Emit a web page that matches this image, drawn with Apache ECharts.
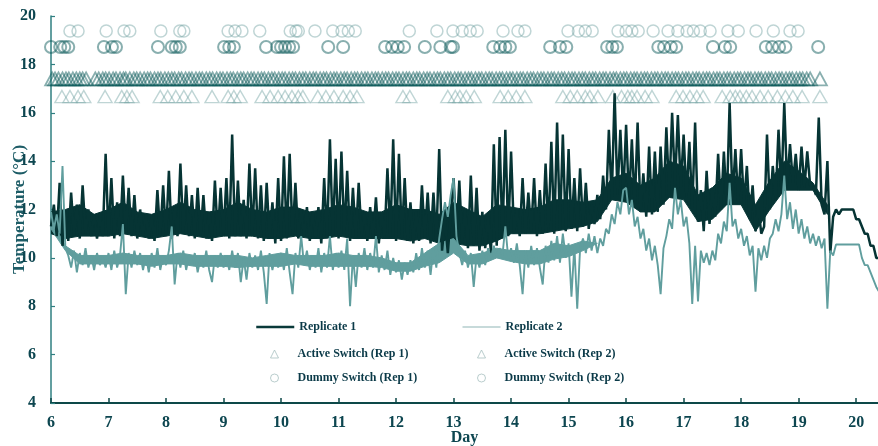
<!DOCTYPE html>
<html><head><meta charset="utf-8">
<script src="https://cdn.jsdelivr.net/npm/echarts@6/dist/echarts.min.js"></script>
<style>html,body{margin:0;padding:0;background:#fff}#c{width:878px;height:446px}</style>
</head><body><div id="c"></div><script>
// ---- data ----
const sampleStartDay = 6.0;   // first logged sample (day)
const sampleStepDay = 0.05;   // logging interval (day)

const rep1Temps = [
 11.3,12.2,10.9,13.1,10.5,11.9,10.7,12.7,10.9,12.2,10.8,13.0,11.0,12.0,10.9,11.8,10.8,11.7,10.9,14.3,
 10.9,13.3,10.8,12.3,10.9,13.4,11.0,12.9,10.9,12.6,10.8,12.0,10.9,11.8,10.8,11.7,10.7,12.8,10.9,13.0,
 10.9,13.6,10.8,12.1,10.9,13.9,11.0,13.0,10.9,12.6,10.8,12.9,10.9,12.6,10.8,11.9,10.7,13.2,10.9,12.9,
 10.9,13.3,10.8,15.1,10.9,13.2,10.9,12.4,10.8,13.9,10.9,13.7,10.8,13.0,10.7,13.1,10.8,12.3,10.6,13.3,
 10.7,14.2,10.8,14.3,10.9,13.1,10.8,12.0,10.9,12.1,10.7,11.9,10.8,12.1,10.6,13.3,10.8,14.9,10.9,14.1,
 10.8,14.4,10.9,13.6,10.7,12.9,10.8,13.1,10.9,11.9,10.7,12.1,10.8,12.5,10.6,11.9,10.8,13.7,10.9,14.9,
 10.7,14.3,10.8,13.3,10.7,12.3,10.6,11.9,10.7,13.0,10.8,12.7,10.6,12.7,10.7,14.5,10.3,11.6,10.2,11.8,
 13.3,10.9,13.2,10.6,12.0,10.4,13.4,10.5,12.9,10.3,11.9,10.4,11.7,10.2,14.7,10.5,15.0,10.8,15.3,10.9,
 14.4,11.0,12.0,10.9,13.3,11.0,12.7,11.1,13.3,10.9,12.8,11.0,13.9,11.1,14.8,11.0,15.6,11.2,15.1,11.1,
 14.5,11.2,13.3,11.1,13.7,11.3,13.1,11.2,12.2,11.4,12.6,11.6,13.4,12.0,15.3,12.4,16.8,12.6,15.3,12.5,
 15.5,12.3,14.9,12.1,15.6,11.9,13.5,11.7,14.6,11.8,14.4,11.9,14.6,12.2,15.4,12.6,16.0,13.0,15.9,12.9,
 15.1,12.5,14.8,12.0,15.6,11.5,12.8,11.1,13.6,11.4,12.9,11.7,14.3,12.0,14.4,12.2,16.4,12.4,14.5,12.3,
 14.5,12.2,13.8,11.6,13.0,11.1,12.1,11.0,11.3,15.1,12.0,13.8,12.4,15.3,12.8,16.4,13.0,14.7,13.1,14.3,
 12.8,14.6,12.9,14.4,13.0,13.0,12.6,15.8,12.2,11.8,14.0,10.2,11.7,12.0,11.8,12.0,12.0,12.0,12.0,12.0,
 11.6,11.6,11.3,11.0,11.0,10.5,10.5,10.0,10.0
];

const rep2Temps = [
 11.9,11.2,11.8,11.0,13.8,10.4,10.1,9.6,10.3,9.4,10.2,9.7,10.4,9.6,10.1,9.5,10.2,9.7,10.0,9.6,
 10.2,9.5,10.3,9.6,10.1,11.4,8.5,10.2,9.6,10.3,9.7,10.2,9.5,10.1,9.4,10.2,9.6,10.4,9.5,10.1,
 9.7,10.3,11.3,8.9,10.2,9.6,10.3,9.5,10.1,9.7,10.2,9.4,10.0,9.6,10.3,9.5,9.0,10.1,9.6,10.2,
 9.6,10.1,9.5,10.3,9.6,10.2,9.0,10.0,9.1,10.2,9.6,10.1,9.5,10.3,9.4,8.1,10.2,9.5,10.1,9.6,
 10.2,9.5,10.4,9.4,8.5,10.2,9.6,10.9,9.7,10.3,9.5,10.1,9.6,10.4,9.4,10.2,9.6,10.9,9.5,10.2,
 9.6,10.3,9.5,10.8,8.0,10.1,8.8,10.2,9.6,10.4,9.5,10.2,9.6,10.9,9.4,10.1,9.5,10.3,9.3,10.0,
 9.4,9.9,9.1,9.8,9.3,9.9,9.4,10.2,9.5,10.4,9.6,10.3,9.3,10.4,9.6,10.8,11.6,12.3,11.7,12.6,
 13.3,10.9,10.2,9.7,10.3,9.6,10.2,8.8,10.1,9.6,10.3,9.7,10.4,10.0,10.5,10.0,10.4,10.1,11.3,10.0,
 10.4,9.8,10.6,9.7,8.5,10.3,9.6,10.5,9.7,10.4,9.6,8.9,10.5,9.8,10.7,9.9,10.9,9.8,11.0,10.0,
 10.6,8.4,10.5,7.9,10.4,10.8,10.2,11.0,10.3,10.9,10.2,10.8,10.5,11.2,11.0,11.8,11.4,12.3,11.8,12.8,
 12.9,11.8,12.4,11.3,11.7,10.8,11.2,10.3,10.8,9.9,10.5,9.7,8.5,10.4,10.9,11.6,11.2,12.9,11.8,12.4,
 11.3,11.7,10.6,8.1,10.5,8.2,10.3,9.8,10.2,9.7,10.3,9.9,11.0,10.6,11.5,11.1,13.1,11.3,11.6,10.8,
 11.2,10.5,10.9,10.1,10.5,8.6,10.4,9.9,10.5,10.0,10.8,11.0,11.6,11.1,11.8,13.4,11.6,12.3,11.2,12.0,
 11.0,11.6,10.8,11.3,10.6,11.0,10.5,10.9,10.4,10.8,7.9,10.3,10.1,10.55,10.55,10.55,10.55,10.55,10.55,10.55,
 10.55,10.55,10.0,9.7,9.7,9.4,9.1,8.8,8.6
];

// solid core of each dense trace, every 0.25 day from day 6
const bandStartDay = 6.0;
const bandStepDay = 0.25;
const rep1BandLow = [11.0,10.8,10.9,10.9,10.9,11.0,10.9,10.8,10.9,11.0,10.9,10.8,10.9,10.9,10.9,10.8,10.8,10.9,10.8,10.8,10.9,10.8,10.8,10.8,10.8,10.7,10.8,10.6,10.6,10.5,10.5,10.7,11.0,11.0,11.0,11.1,11.2,11.3,11.5,12.4,12.3,11.9,11.9,12.5,12.4,11.5,11.6,12.2,12.2,11.1,12.0,12.8,12.8,12.8,11.8];
const rep1BandHigh = [11.9,12.0,12.2,11.8,12.0,12.3,11.9,11.8,12.0,12.3,12.0,11.9,12.0,12.3,12.0,11.9,12.1,12.1,11.9,12.0,12.2,12.1,11.9,11.9,12.2,12.0,12.0,11.8,12.3,12.0,11.7,12.2,12.1,12.0,12.1,12.4,12.4,12.3,12.4,13.3,13.5,13.0,13.3,14.0,13.8,12.6,12.9,13.5,13.3,12.2,13.2,14.0,13.6,13.1,12.2];
const rep2BandLow = [11.2,10.3,9.75,9.75,9.75,9.75,9.75,9.65,9.75,9.75,9.65,9.65,9.65,9.6,9.65,9.65,9.65,9.75,9.65,9.65,9.65,9.65,9.65,9.6,9.45,9.45,9.65,9.8,10.2,9.75,9.75,10.0,9.85,9.75,9.75,9.95,10.05,10.3,10.6];
const rep2BandHigh = [11.6,10.5,10.1,10.1,10.1,10.2,10.1,10.1,10.1,10.2,10.1,10.1,10.1,10.1,10.0,10.1,10.2,10.1,10.1,10.1,10.2,10.1,10.1,10.0,9.8,9.8,10.2,10.6,10.8,10.1,10.2,10.4,10.3,10.3,10.3,10.6,10.5,10.7,10.6];

const activeRep1Level = 17.4;
const activeRep1Days = [6.02,6.07,6.13,6.2,6.26,6.31,6.38,6.44,6.5,6.55,6.61,6.77,6.83,6.9,6.95,7.01,7.08,7.13,7.2,7.26,7.3,7.37,7.44,7.49,7.55,7.62,7.68,7.73,7.8,7.86,7.91,7.98,8.04,8.1,8.15,8.22,8.27,8.34,8.4,8.45,8.52,8.58,8.63,8.7,8.76,8.81,8.88,8.94,8.99,9.06,9.12,9.17,9.24,9.3,9.35,9.42,9.48,9.53,9.6,9.66,9.71,9.78,9.84,9.89,9.96,10.02,10.07,10.14,10.2,10.25,10.32,10.38,10.43,10.5,10.56,10.61,10.68,10.74,10.79,10.86,10.92,10.97,11.04,11.1,11.15,11.22,11.28,11.33,11.4,11.46,11.51,11.58,11.64,11.69,11.76,11.82,11.87,11.94,12.0,12.05,12.12,12.18,12.23,12.3,12.36,12.41,12.48,12.54,12.59,12.66,12.72,12.77,12.84,12.9,12.95,13.02,13.08,13.13,13.2,13.26,13.31,13.38,13.44,13.49,13.56,13.62,13.67,13.74,13.8,13.85,13.92,13.98,14.03,14.1,14.16,14.21,14.28,14.34,14.39,14.46,14.52,14.57,14.64,14.7,14.75,14.82,14.88,14.93,15.0,15.06,15.11,15.18,15.24,15.29,15.36,15.42,15.47,15.54,15.6,15.65,15.72,15.78,15.83,15.9,15.96,16.01,16.08,16.14,16.19,16.26,16.32,16.37,16.44,16.5,16.55,16.62,16.68,16.73,16.8,16.86,16.91,16.98,17.04,17.09,17.16,17.22,17.27,17.34,17.4,17.45,17.52,17.58,17.63,17.7,17.76,17.81,17.88,17.94,17.99,18.06,18.12,18.17,18.24,18.3,18.35,18.42,18.48,18.53,18.6,18.66,18.71,18.78,18.84,18.89,18.96,19.02,19.07,19.14,19.2,19.37];

const activeRep2Level = 16.67;
const activeRep2Days = [6.19,6.33,6.47,6.57,6.94,7.23,7.32,7.41,7.9,8.03,8.17,8.31,8.45,8.8,9.08,9.18,9.29,9.67,9.81,9.95,10.07,10.19,10.3,10.38,10.64,10.78,10.92,11.08,11.2,11.32,12.12,12.24,12.9,13.03,13.11,13.22,13.36,13.81,13.95,14.09,14.24,14.9,15.03,15.15,15.29,15.37,15.51,15.77,15.92,16.03,16.1,16.19,16.33,16.45,16.87,16.99,17.11,17.23,17.34,17.67,17.81,17.9,17.98,18.09,18.19,18.33,18.47,18.63,18.77,18.9,19.06,19.37];

const dummyRep1Level = 18.72;
const dummyRep1Days = [6.0,6.16,6.23,6.3,6.92,7.06,7.13,7.86,8.1,8.17,8.24,9.01,9.1,9.18,9.74,9.93,10.0,10.07,10.14,10.21,10.82,11.08,11.81,11.93,12.03,12.14,12.5,12.77,12.95,12.99,13.69,13.81,13.9,13.98,14.68,14.85,14.96,15.67,15.76,15.84,16.56,16.66,16.78,16.87,17.51,17.72,17.81,18.43,18.54,18.66,18.77,19.34];

const dummyRep2Level = 19.38;
const dummyRep2Days = [6.33,6.47,6.96,7.27,7.37,7.91,8.24,8.31,9.08,9.2,9.32,9.63,10.16,10.26,10.3,10.59,10.9,11.06,11.17,11.29,12.23,12.71,12.99,13.15,13.29,13.41,13.86,14.12,14.24,14.99,15.17,15.29,15.41,15.86,16.0,16.1,16.21,16.47,16.73,16.9,17.06,17.17,17.29,17.46,17.77,17.95,18.26,18.56,18.85,18.99];

const seriesNames = ['Replicate 1','Replicate 2','Active Switch (Rep 1)','Active Switch (Rep 2)','Dummy Switch (Rep 1)','Dummy Switch (Rep 2)'];

// ---- build ----
const toPairs = vals => vals.map((v,i)=>[+(sampleStartDay + i*sampleStepDay).toFixed(2), v]);
const bandDay = i => +(bandStartDay + i*bandStepDay).toFixed(2);
const atLevel = (days, lvl) => days.map(d=>[d, lvl]);

const FONT = '"Liberation Serif", "DejaVu Serif", serif';
const TXT = '#0d4650';
const C1 = '#063434', C2 = '#609e9e';
const hidden = {color:'rgba(0,0,0,0)', borderColor:'rgba(0,0,0,0)', borderWidth:0};
const legendIconStyle = {color:'rgba(0,0,0,0)', borderColor:'#a9c1c1', borderWidth:1};
const legendText = {fontFamily:FONT, fontWeight:'bold', fontSize:12, lineHeight:14, color:'#0b3a48'};
const markerLegendText = Object.assign({}, legendText, {padding:[0,0,0,14]});

const lineLegend = (left, item) => ({orient:'vertical', left, top:320, padding:0,
  itemWidth:38, itemHeight:8, textStyle:legendText, data:[item]});
const markerLegend = (left, names) => ({orient:'vertical', left, top:347, padding:0,
  itemWidth:8, itemHeight:8, itemGap:10, symbolKeepAspect:true, textStyle:markerLegendText,
  data:[{name:names[0], icon:'triangle', itemStyle:legendIconStyle},
        {name:names[1], icon:'circle', itemStyle:legendIconStyle}]});

// core polygon drawn through the axes' own scales (api.coord)
const bandSeries = (low, high, color, z) => ({
  type:'custom', silent:true, z, clip:true,
  data:[[bandStartDay, low[0]]],
  renderItem:(params, api) => {
    const pts = [];
    high.forEach((v,i)=>pts.push(api.coord([bandDay(i), v])));
    for (let i = low.length-1; i >= 0; i--) pts.push(api.coord([bandDay(i), low[i]]));
    return {type:'polygon', shape:{points:pts}, style:{fill:color, stroke:color, lineWidth:1}};
  }
});

const chart = echarts.init(document.getElementById('c'), null, {renderer:'canvas'});
chart.setOption({
  animation:false,
  backgroundColor:'#fff',
  grid:{left:51, right:0, top:16, bottom:43, containLabel:false, outerBoundsMode:'none'},
  xAxis:{
    type:'value', min:6, max:20.38, interval:1,
    name:'Day', nameLocation:'middle', nameGap:27, nameMoveOverlap:false,
    nameTextStyle:{fontFamily:FONT, fontWeight:'bold', fontSize:16, color:TXT},
    axisLine:{show:true, onZero:false, lineStyle:{color:'#0d4848', width:2}},
    axisTick:{show:true, inside:true, length:5, lineStyle:{color:'#0d4848', width:1.5}},
    axisLabel:{margin:12, fontFamily:FONT, fontWeight:'bold', fontSize:16, color:TXT,
      showMaxLabel:false},
    splitLine:{show:false}
  },
  yAxis:{
    type:'value', min:4, max:20, interval:2,
    name:'Temperature (°C)', nameLocation:'middle', nameGap:23, nameMoveOverlap:false,
    nameTextStyle:{fontFamily:FONT, fontWeight:'bold', fontSize:17, color:'#1d5c66'},
    axisLine:{show:true, onZero:false, lineStyle:{color:'#2f7f80', width:1.5}},
    axisTick:{show:true, inside:true, length:4, lineStyle:{color:'#2f7f80', width:1.2}},
    axisLabel:{margin:15, fontFamily:FONT, fontWeight:'bold', fontSize:16, color:TXT},
    splitLine:{show:false}
  },
  legend:[
    lineLegend(255, {name:seriesNames[0], itemStyle:hidden, lineStyle:{color:'#0a3a3a', width:2.5}}),
    lineLegend(462, {name:seriesNames[1], itemStyle:hidden, lineStyle:{color:'#8fb5b5', width:1}}),
    markerLegend(270, [seriesNames[2], seriesNames[4]]),
    markerLegend(477, [seriesNames[3], seriesNames[5]])
  ],
  series:[
    {name:seriesNames[2], type:'scatter', symbol:'triangle', symbolSize:[14,13],
     itemStyle:{color:'rgba(0,0,0,0)', borderColor:'rgba(8,88,88,0.6)', borderWidth:1.8},
     data:atLevel(activeRep1Days, activeRep1Level)},
    {name:seriesNames[3], type:'scatter', symbol:'triangle', symbolSize:[14,12],
     itemStyle:{color:'rgba(0,0,0,0)', borderColor:'rgba(110,160,160,0.55)', borderWidth:1.4},
     data:atLevel(activeRep2Days, activeRep2Level)},
    {name:seriesNames[4], type:'scatter', symbol:'circle', symbolSize:12,
     itemStyle:{color:'rgba(0,0,0,0)', borderColor:'rgba(8,88,88,0.6)', borderWidth:2},
     data:atLevel(dummyRep1Days, dummyRep1Level)},
    {name:seriesNames[5], type:'scatter', symbol:'circle', symbolSize:12,
     itemStyle:{color:'rgba(0,0,0,0)', borderColor:'rgba(110,160,160,0.55)', borderWidth:1.5},
     data:atLevel(dummyRep2Days, dummyRep2Level)},
    bandSeries(rep1BandLow, rep1BandHigh, C1, 2),
    bandSeries(rep2BandLow, rep2BandHigh, C2, 2),
    {name:seriesNames[0], type:'line', symbol:'none', showSymbol:false,
     lineStyle:{color:C1, width:2.5, join:'bevel'}, itemStyle:{color:C1},
     data:toPairs(rep1Temps), z:3},
    {name:seriesNames[1], type:'line', symbol:'none', showSymbol:false,
     lineStyle:{color:C2, width:1.9, join:'bevel'}, itemStyle:{color:C2},
     data:toPairs(rep2Temps), z:4}
  ]
});
</script></body></html>
